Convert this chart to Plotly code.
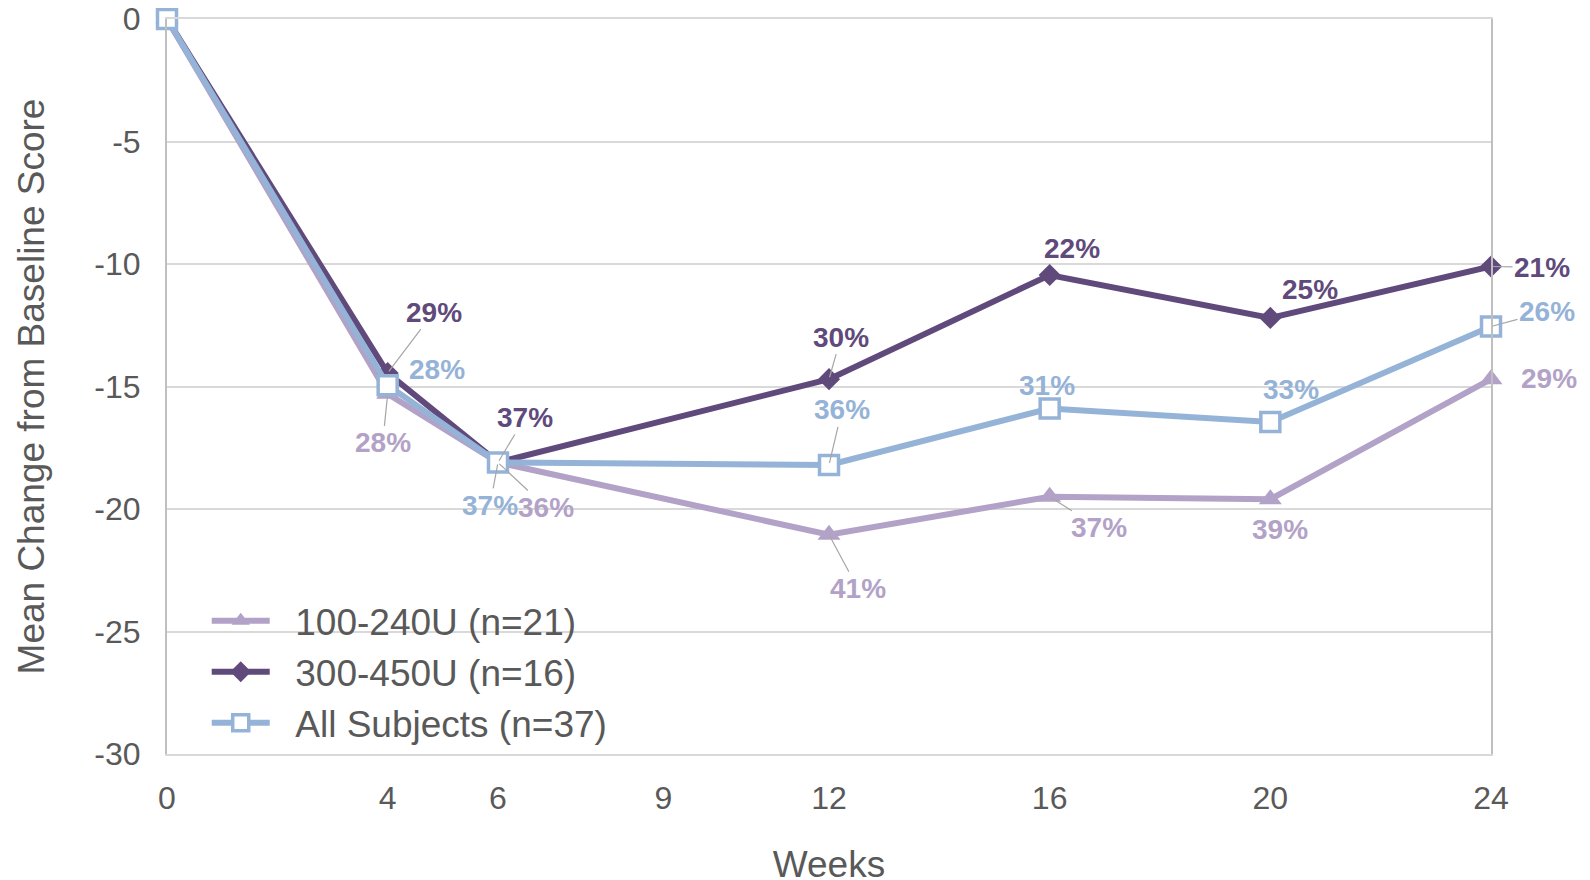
import plotly.graph_objects as go

weeks = [0, 4, 6, 12, 16, 20, 24]
low_dose = [0, -15.3, -18.1, -21.05, -19.5, -19.6, -14.7]
high_dose = [0, -14.45, -18.1, -14.7, -10.45, -12.2, -10.1]
all_subj = [0, -14.95, -18.1, -18.2, -15.9, -16.45, -12.55]

low_labels = ["", "28%", "36%", "41%", "37%", "39%", "29%"]
high_labels = ["", "29%", "37%", "30%", "22%", "25%", "21%"]
all_labels = ["", "28%", "37%", "36%", "31%", "33%", "26%"]

names = ["100-240U (n=21)", "300-450U (n=16)", "All Subjects (n=37)"]
tick_vals = [0, 4, 6, 9, 12, 16, 20, 24]
tick_text = ["0", "4", "6", "9", "12", "16", "20", "24"]
y_ticks = [0, -5, -10, -15, -20, -25, -30]
y_tick_text = ["0", "-5", "-10", "-15", "-20", "-25", "-30"]

C_LOW = "#B3A2C7"
C_HIGH = "#604A7B"
C_ALL = "#95B3D7"
GRAY = "#595959"
FONT = "Liberation Sans, Arial, sans-serif"
PAD = "\u00a0\u00a0"

fig = go.Figure()
fig.add_trace(go.Scatter(x=weeks, y=low_dose, name=PAD + names[0], mode="lines+markers",
                         line=dict(color=C_LOW, width=6),
                         marker=dict(symbol="triangle-up", size=20, color=C_LOW),
                         cliponaxis=False))
fig.add_trace(go.Scatter(x=weeks, y=high_dose, name=PAD + names[1], mode="lines+markers",
                         line=dict(color=C_HIGH, width=6),
                         marker=dict(symbol="diamond", size=17, color=C_HIGH),
                         cliponaxis=False))
fig.add_trace(go.Scatter(x=weeks, y=all_subj, name=PAD + names[2], mode="lines+markers",
                         line=dict(color=C_ALL, width=6),
                         marker=dict(symbol="square", size=19, color="white",
                                     line=dict(color=C_ALL, width=3.5)),
                         cliponaxis=False))

# label offsets (px) and whether a leader line is drawn
low_off = [None, (-5, 49, True), (48, 45, True), (29, 54, True), (49, 31, True), (10, 30, False), (58, -1, False)]
high_off = [None, (46, -61, True), (27, -45, True), (12, -42, True), (22, -27, False), (40, -28, False), (51, 1, True)]
all_off = [None, (49, -16, False), (-8, 43, True), (13, -55, True), (-3, -23, False), (21, -33, False), (56, -15, True)]

for ys, labs, offs, col in [(low_dose, low_labels, low_off, C_LOW),
                            (all_subj, all_labels, all_off, C_ALL),
                            (high_dose, high_labels, high_off, C_HIGH)]:
    for x, y, t, o in zip(weeks, ys, labs, offs):
        if not t:
            continue
        ax, ay, lead = o
        fig.add_annotation(x=x, y=y, text=t, showarrow=True, ax=ax, ay=ay,
                           arrowhead=0, arrowwidth=1.2,
                           arrowcolor="#A6A6A6" if lead else "rgba(0,0,0,0)",
                           standoff=2, font=dict(family=FONT, size=28, color=col, weight="bold"))

fig.update_layout(
    width=1590, height=880,
    margin=dict(l=159, r=107, t=11, b=134, autoexpand=False),
    paper_bgcolor="white", plot_bgcolor="white",
    font=dict(family=FONT, color=GRAY, size=32),
    showlegend=True,
    legend=dict(x=0.030, y=0.223, xanchor="left", yanchor="top",
                bgcolor="rgba(255,255,255,0)", font=dict(size=37, color=GRAY),
                tracegroupgap=0, itemwidth=58),
    xaxis=dict(range=[0, 24], tickvals=tick_vals, ticktext=tick_text,
               showgrid=False, zeroline=False, showline=True, linecolor="#D9D9D9",
               linewidth=2, mirror=True, ticks="", ticklabelstandoff=15,
               ticklabeloverflow="allow",
               tickfont=dict(size=32, color=GRAY),
               title=dict(text="Weeks", font=dict(size=37, color=GRAY), standoff=36)),
    yaxis=dict(range=[-30, 0], tickvals=y_ticks, ticktext=y_tick_text,
               showgrid=True, gridcolor="#D9D9D9",
               gridwidth=2, zeroline=False, showline=True, linecolor="#BFBFBF",
               linewidth=2, mirror=True, ticks="", ticklabelstandoff=18,
               ticklabeloverflow="allow",
               tickfont=dict(size=32, color=GRAY),
               title=dict(text="Mean Change from Baseline Score",
                          font=dict(size=37, color=GRAY), standoff=38)),
)

fig.write_html("out.html")
